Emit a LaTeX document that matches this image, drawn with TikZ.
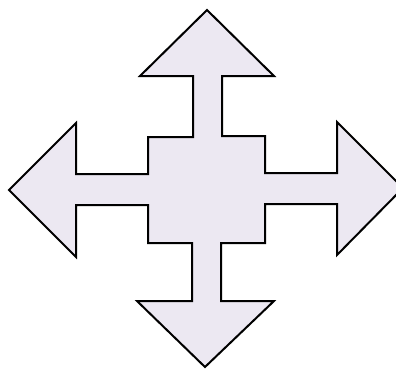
\documentclass[tikz,border=0pt]{standalone}
\definecolor{arrowfill}{RGB}{236,232,242}
\tikzset{crossarrow/.style={draw=black, line width=2pt, fill=arrowfill, line join=miter}}
\begin{document}
\begin{tikzpicture}[x=1pt,y=-1pt]
\useasboundingbox (0,0) rectangle (396,368);
\clip (0,0) rectangle (396,368);
\fill[white] (0,0) rectangle (396,368);
\draw[crossarrow]
 (207,10) -- (274,76) -- (222,76) -- (222,136) -- (265,136) -- (265,173)
 -- (337,173) -- (337,122) -- (403,188) -- (337,255) -- (337,204)
 -- (265,204) -- (265,243) -- (221,243) -- (221,301) -- (274,301)
 -- (205,367) -- (137,301) -- (192,301) -- (192,243) -- (148,243)
 -- (148,205) -- (76,205) -- (76,257) -- (9,190) -- (76,123) -- (76,174)
 -- (148,174) -- (148,137) -- (193,137) -- (193,76) -- (140,76) -- cycle;
\end{tikzpicture}
\end{document}
